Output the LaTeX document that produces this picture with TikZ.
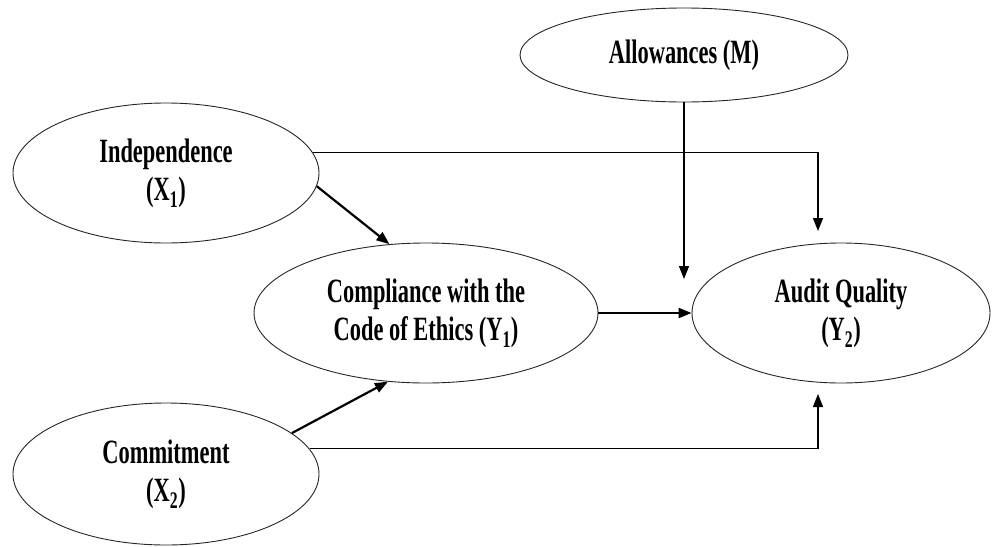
\documentclass[tikz,border=0pt]{standalone}
\usepackage{fontspec}
\setmainfont{Liberation Serif}[FakeStretch=0.66]
\usetikzlibrary{shapes.geometric,arrows.meta}
\begin{document}
\begin{tikzpicture}[x=1pt,y=-1pt,
  var/.style={ellipse,draw=black!85,line width=0.9pt,inner sep=0pt,align=center,
    font=\fontsize{34}{38}\selectfont\bfseries},
  conn/.style={line width=1.4pt,-{Triangle[length=13pt,width=10pt]}},
  thick conn/.style={line width=2.2pt,-{Triangle[length=13pt,width=10pt]}}]
\useasboundingbox (0,0) rectangle (992,546);
\node[var,minimum width=306pt,minimum height=140pt] (ind) at (166,173) {Independence\\(X\textsubscript{1})};
\node[var,minimum width=344pt,minimum height=140pt] (comp) at (426,313) {Compliance with the\\Code of Ethics (Y\textsubscript{1})};
\node[var,minimum width=306pt,minimum height=142pt] (com) at (166,474) {Commitment\\(X\textsubscript{2})};
\node[var,minimum width=328pt,minimum height=94pt] (all) at (684,55) {Allowances (M)};
\node[var,minimum width=298pt,minimum height=140pt] (aud) at (841,313) {Audit Quality\\(Y\textsubscript{2})};
\coordinate (t1) at (818,231);
\coordinate (t2) at (684,279);
\coordinate (t3) at (818,394);
\draw[conn] (ind.8) -| (t1);
\draw[conn] (all.south) -- (t2);
\draw[thick conn] (comp.east) -- (aud.west);
\draw[conn] (com.10) -| (t3);
\draw[thick conn] (ind.-5) -- (comp.118);
\draw[thick conn] (com.18) -- (comp.241);
\end{tikzpicture}
\end{document}
